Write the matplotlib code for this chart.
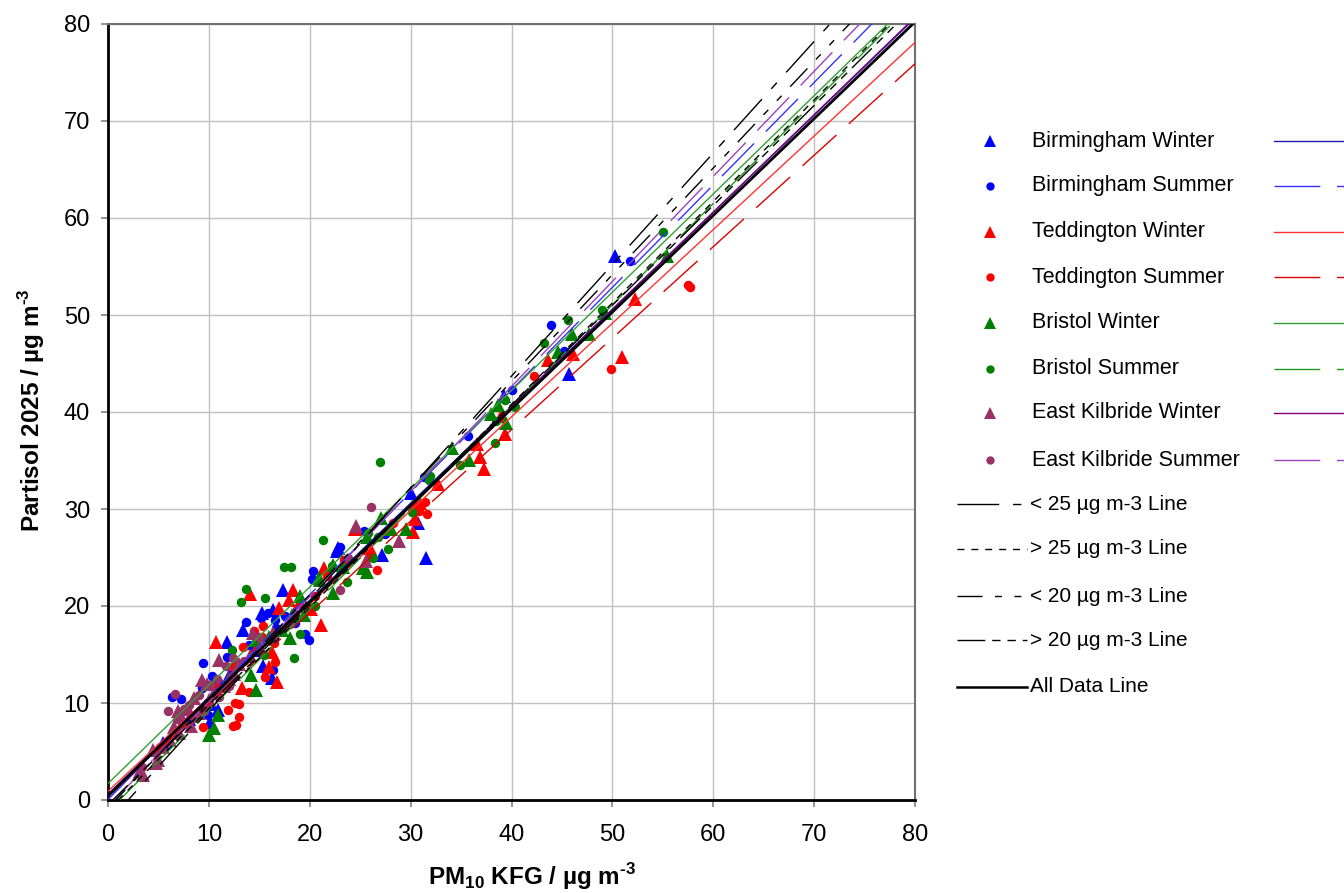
import matplotlib
matplotlib.use("Agg")
import matplotlib.pyplot as plt
from matplotlib.lines import Line2D
import numpy as np

plt.rcParams['font.family'] = ['Liberation Sans', 'DejaVu Sans']
plt.rcParams['mathtext.fontset'] = 'custom'
plt.rcParams['mathtext.rm'] = 'Liberation Sans'
plt.rcParams['mathtext.bf'] = 'Liberation Sans:bold'

# ---------------- data ----------------
bham_w_x = [50.3, 45.7, 39.3, 30.0, 30.7, 27.2, 31.5, 22.7, 22.8, 17.3, 15.3, 16.4, 13.4, 11.8, 16.3, 15.4,
            10.1, 10.2, 10.9, 5.5, 18.4, 14.5, 12.0, 8.0]
bham_w_y = [56.1, 43.9, 41.6, 31.7, 28.6, 25.3, 24.9, 25.7, 26.0, 21.7, 19.3, 19.6, 17.5, 16.3, 12.6, 13.8,
            8.0, 9.9, 9.3, 5.9, 19.2, 15.5, 12.8, 8.3]

bham_s_x = [51.7, 43.9, 45.2, 40.0, 35.7, 31.3, 27.5, 25.4, 23.0, 20.3, 20.2, 15.9, 16.6, 15.2, 13.7, 16.7,
            19.5, 19.9, 11.8, 9.4, 10.3, 10.9, 9.3, 16.4, 6.3, 7.2, 9.9, 12.5, 14.0, 17.5, 18.5]
bham_s_y = [55.6, 49.0, 46.3, 42.3, 37.5, 33.3, 27.4, 27.7, 26.1, 23.6, 22.8, 19.3, 18.6, 18.8, 18.3, 17.7,
            17.1, 16.5, 14.7, 14.1, 12.8, 12.2, 11.5, 13.4, 10.6, 10.4, 8.8, 13.5, 16.0, 19.0, 18.2]

tedd_w_x = [52.2, 51.0, 43.6, 46.1, 39.0, 39.4, 36.6, 36.9, 37.3, 32.7, 30.9, 30.4, 30.4, 30.2, 24.5, 26.0,
            21.4, 18.3, 14.1, 17.0, 20.1, 19.0, 17.9, 21.1, 10.7, 16.3, 16.0, 16.8, 13.3, 12.5, 14.8]
tedd_w_y = [51.7, 45.7, 45.4, 46.0, 39.6, 37.7, 36.7, 35.4, 34.1, 32.6, 30.6, 30.4, 29.0, 27.6, 27.9, 26.0,
            23.9, 21.7, 21.2, 19.8, 19.7, 20.4, 20.6, 18.0, 16.3, 15.3, 13.7, 12.2, 11.5, 14.0, 15.8]

tedd_s_x = [57.5, 57.7, 49.9, 42.2, 31.4, 30.8, 31.6, 28.3, 26.0, 26.7, 23.4, 21.7, 15.4, 14.5, 15.3, 13.4,
            16.5, 16.6, 15.6, 14.0, 10.8, 12.6, 13.0, 11.9, 13.0, 12.4, 12.7, 9.4, 18.5, 20.5, 17.2]
tedd_s_y = [53.1, 52.9, 44.4, 43.7, 30.7, 29.8, 29.5, 28.6, 25.1, 23.7, 24.7, 23.1, 17.9, 17.4, 16.8, 15.8,
            16.2, 14.2, 12.7, 11.1, 11.7, 10.0, 9.9, 9.3, 8.6, 7.6, 7.7, 7.5, 19.2, 21.0, 17.6]

bris_w_x = [55.4, 49.3, 46.0, 47.7, 44.6, 38.7, 38.0, 39.5, 34.1, 35.8, 27.1, 28.1, 29.5, 25.7, 25.7, 25.3,
            23.3, 22.3, 21.0, 20.9, 22.3, 19.0, 19.4, 18.2, 17.2, 18.0, 14.7, 14.2, 14.7, 10.9, 10.5, 10.0,
            12.0, 16.0]
bris_w_y = [56.1, 50.2, 48.0, 48.0, 46.2, 40.7, 39.8, 38.9, 36.3, 35.1, 29.1, 27.9, 27.9, 27.1, 23.5, 23.9,
            24.0, 24.2, 22.7, 22.9, 21.3, 21.0, 19.1, 19.1, 17.5, 16.7, 16.5, 12.9, 11.3, 8.8, 7.4, 6.7,
            12.5, 16.8]

bris_s_x = [55.0, 49.0, 45.6, 43.2, 39.4, 40.3, 38.5, 38.4, 34.9, 27.0, 31.9, 31.8, 30.1, 25.8, 26.8, 27.8,
            26.3, 21.3, 17.4, 18.1, 22.2, 23.7, 13.7, 13.2, 15.6, 19.0, 18.4, 12.3, 15.5, 20.5]
bris_s_y = [58.6, 50.5, 49.5, 47.1, 41.2, 40.5, 39.1, 36.8, 34.5, 34.8, 33.4, 33.0, 29.7, 27.5, 27.1, 25.9,
            24.9, 26.8, 24.0, 24.0, 24.1, 22.5, 21.8, 20.4, 20.8, 17.1, 14.6, 15.5, 15.0, 20.0]

ek_w_x = [24.6, 28.8, 25.6, 14.4, 15.1, 16.4, 14.1, 11.0, 9.3, 6.9, 7.9, 7.0, 6.1, 5.0, 4.5, 3.5, 4.8, 8.5,
          9.0, 10.5, 12.0, 13.0, 7.5, 8.2, 10.0, 11.5, 6.5, 5.5, 3.2, 12.5, 9.8]
ek_w_y = [28.2, 26.7, 24.6, 17.2, 15.8, 17.2, 14.8, 14.4, 12.4, 9.2, 9.4, 6.9, 6.2, 4.1, 5.2, 2.6, 3.8, 10.5,
          9.0, 11.0, 12.5, 14.0, 8.0, 7.6, 10.3, 11.8, 7.5, 5.5, 3.0, 13.0, 12.0]

ek_s_x = [26.1, 23.8, 23.0, 18.0, 12.4, 11.7, 10.1, 6.6, 5.9, 5.2, 3.4, 8.0, 9.0, 10.8, 7.3, 8.5, 9.5, 6.8,
          4.8, 12.0, 13.5, 15.0, 16.5, 11.0, 7.5, 9.8]
ek_s_y = [30.2, 25.0, 21.7, 18.1, 14.6, 13.8, 11.9, 10.9, 9.2, 5.5, 3.4, 9.8, 10.8, 12.5, 7.9, 8.5, 9.2, 8.3,
          4.8, 11.8, 14.3, 16.8, 16.6, 10.6, 9.4, 10.0]

series_names = ["Birmingham Winter", "Birmingham Summer", "Teddington Winter", "Teddington Summer",
                "Bristol Winter", "Bristol Summer", "East Kilbride Winter", "East Kilbride Summer"]

# regression lines (slope, intercept) for each site/season
fit_slopes = [1.000, 1.056, 0.965, 0.943, 1.013, 1.045, 1.005, 1.083]
fit_intercepts = [0.6, 0.05, 0.9, 0.46, 1.7, -1.2, 0.3, -0.69]

ref_names = ["< 25 µg m-3 Line", "> 25 µg m-3 Line", "< 20 µg m-3 Line", "> 20 µg m-3 Line", "All Data Line"]
ref_slopes = [1.150, 1.046, 1.100, 1.030, 0.997]
ref_intercepts = [-2.3, -1.05, -0.85, -0.5, 0.45]

# ---------------- styling ----------------
mk_colors = ['#0000ff', '#0000ff', '#ff0000', '#ff0000', '#008000', '#008000', '#993366', '#993366']
mk_shapes = ['^', 'o', '^', 'o', '^', 'o', '^', 'o']
ln_colors = ['#1a1aaa', '#3333ff', '#ff3333', '#dd0000', '#33a033', '#1f9a1f', '#800080', '#a040c0']
ln_dash = [None, (33, 12), None, (33, 12), None, (33, 12), None, (33, 12)]
ref_dash = [(30, 10, 6, 10), (5, 5), (18, 9, 5, 9, 5, 9), (20, 5, 6, 5, 6, 5, 6, 5), None]

xs = [bham_w_x, bham_s_x, tedd_w_x, tedd_s_x, bris_w_x, bris_s_x, ek_w_x, ek_s_x]
ys = [bham_w_y, bham_s_y, tedd_w_y, tedd_s_y, bris_w_y, bris_s_y, ek_w_y, ek_s_y]

W, H = 1344, 893
fig = plt.figure(figsize=(W / 100, H / 100), dpi=100)
ax = fig.add_axes([108 / W, 1 - 800 / H, (915 - 108) / W, (800 - 24) / H])

ax.set_xlim(0, 80)
ax.set_ylim(0, 80)
ax.set_xticks(range(0, 81, 10))
ax.set_yticks(range(0, 81, 10))
ax.grid(True, color='#c0c0c0', lw=1.0)
ax.set_axisbelow(True)

for i in range(8):
    ms = 9.5 if mk_shapes[i] == '^' else 6.8
    ax.plot(xs[i], ys[i], linestyle='none', marker=mk_shapes[i], color=mk_colors[i], ms=ms,
            markeredgewidth=0, zorder=3)

xx = np.array([0.0, 80.0])
for i in range(8):
    kw = dict(color=ln_colors[i], lw=1.0, zorder=4)
    l, = ax.plot(xx, fit_slopes[i] * xx + fit_intercepts[i], **kw)
    if ln_dash[i] is not None:
        l.set_dashes(ln_dash[i])

for i in range(5):
    lw = 2.0 if i == 4 else 1.0
    l, = ax.plot(xx, ref_slopes[i] * xx + ref_intercepts[i], color='black', lw=lw, zorder=5)
    if ref_dash[i] is not None:
        l.set_dashes(ref_dash[i])

for s in ['left', 'bottom']:
    ax.spines[s].set_color('black')
    ax.spines[s].set_linewidth(2.0)
for s in ['top', 'right']:
    ax.spines[s].set_color('#707070')
    ax.spines[s].set_linewidth(1.5)
ax.tick_params(axis='both', which='major', labelsize=17, length=5, width=1.2, color='#808080',
               direction='out')
ax.tick_params(axis='x', pad=12)
ax.tick_params(axis='y', pad=8)

fig.text(532 / W, 1 - 877 / H, 'PM$_{\\mathbf{10}}$ KFG / µg m$^{\\mathbf{\u2010}\\mathbf{3}}$',
         fontsize=17.5, fontweight='bold', ha='center', va='center')
fig.text(32 / W, 1 - 410 / H, 'Partisol 2025 / µg m$^{\\mathbf{\u2010}\\mathbf{3}}$',
         fontsize=17.5, fontweight='bold', ha='center', va='center', rotation=90)

# ---------------- legend (drawn manually, Excel style) ----------------
rows = [141, 186, 232, 277, 323, 369, 413, 460]
for i in range(8):
    yf = 1 - rows[i] / H
    ms = 8 if mk_shapes[i] == '^' else 6
    fig.add_artist(Line2D([990 / W], [yf], marker=mk_shapes[i], color=mk_colors[i], ms=ms,
                          markeredgewidth=0, linestyle='none', transform=fig.transFigure))
    fig.text(1032 / W, yf, series_names[i], fontsize=15.5, va='center', ha='left')
    l = Line2D([1274 / W, 1.0], [yf, yf], color=ln_colors[i], lw=1.0, transform=fig.transFigure)
    if ln_dash[i] is not None:
        l.set_dashes(ln_dash[i])
    fig.add_artist(l)

rows2 = [504, 549, 596, 640, 687]
for i in range(5):
    yf = 1 - rows2[i] / H
    lw = 1.8 if i == 4 else 1.0
    l = Line2D([957 / W, 1027 / W], [yf, yf], color='black', lw=lw, transform=fig.transFigure)
    if ref_dash[i] is not None:
        l.set_dashes(ref_dash[i])
    fig.add_artist(l)
    fig.text(1030 / W, yf, ref_names[i], fontsize=15, va='center', ha='left')

fig.savefig('out.png', dpi=100)
